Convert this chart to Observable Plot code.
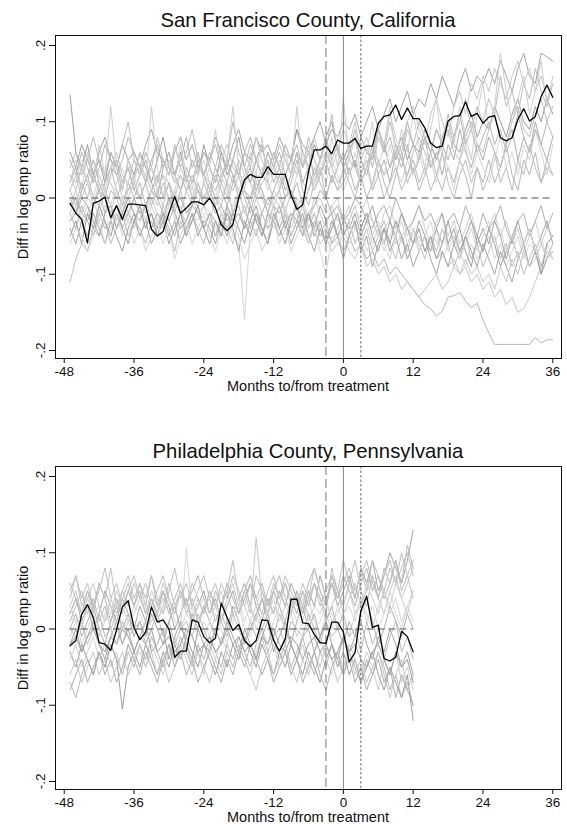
<!DOCTYPE html>
<html><head><meta charset="utf-8">
<script src="https://cdn.jsdelivr.net/npm/d3@7"></script>
<script src="https://cdn.jsdelivr.net/npm/@observablehq/plot@0.6"></script>
<style>
body{margin:0;background:#fff;font-family:"Liberation Sans",Arial,sans-serif;}
#root{position:relative;width:567px;height:824px;overflow:hidden;}
.panel{position:absolute;left:0;width:567px;height:431px;}
.ttl{position:absolute;left:55px;width:506px;text-align:center;font-size:20.3px;line-height:20px;top:10px;color:#111;}
.xt{position:absolute;left:55px;width:506px;text-align:center;font-size:14.5px;line-height:11px;top:381px;color:#111;}
.yt{position:absolute;left:23px;top:197px;font-size:14.5px;line-height:16px;white-space:nowrap;transform:translate(-50%,-50%) rotate(-90deg);color:#111;}
.panel svg{position:absolute;left:0;top:33px;}
</style></head>
<body><div id="root"></div>
<script>
// ---------- data ----------
const titles = ["San Francisco County, California", "Philadelphia County, Pennsylvania"];
const xTitle = "Months to/from treatment";
const yTitle = "Diff in log emp ratio";
const xTicks = [-48, -36, -24, -12, 0, 12, 24, 36];
const yTicks = [-0.2, -0.1, 0, 0.1, 0.2];
const preLine = [-3];   // dashed vertical
const treatLine = [0];  // solid vertical
const postLine = [3];   // dotted vertical

const sfMonths = d3.range(-47, 37);   // -47 .. 36
const phMonths = d3.range(-47, 13);   // -47 .. 12

// treated series (black)
const sfTreated = [
 -.007,-.02,-.028,-.059,-.007,-.004,.001,-.026,-.01,-.028,-.008,-.008,
 -.009,-.01,-.041,-.05,-.044,-.02,.002,-.02,-.013,-.005,-.005,-.009,
 0,-.013,-.035,-.043,-.035,0,.024,.031,.027,.027,.041,.031,
 .031,.031,.004,-.015,-.009,.035,.063,.063,.068,.058,.076,.072,
 .072,.078,.065,.068,.068,.098,.107,.109,.122,.103,.118,.104,
 .104,.092,.072,.066,.068,.101,.107,.108,.126,.107,.111,.098,
 .106,.108,.079,.075,.079,.103,.117,.101,.107,.133,.148,.132];
const phTreated = [
 -.022,-.015,.019,.032,.015,-.018,-.02,-.028,-.001,.029,.037,.002,
 -.014,-.004,.029,.009,.012,0,-.037,-.029,-.029,.012,.009,-.01,
 -.018,-.012,.034,.015,-.002,.006,-.015,-.023,-.015,.012,.011,-.015,
 -.029,-.013,.039,.039,.008,.007,-.007,-.018,-.019,.009,.009,-.004,
 -.043,-.031,.024,.043,.002,.005,-.039,-.042,-.037,-.003,-.01,-.03];

// placebo series (gray), San Francisco
const sfPlacebo1 = [.06,.04,.07,.05,.03,.06,.08,.05,.04,.07,.05,.06, .04,.07,.09,.06,.05,.03,.06,.08,.05,.07,.04,.06, .05,.08,.06,.04,.07,.09,.06,.05,.08,.06,.07,.05, .08,.06,.05,.09,.07,.06,.08,.10,.07,.09,.08,.10, .09,.11,.08,.10,.12,.09,.11,.13,.10,.12,.14,.11, .13,.12,.15,.13,.16,.14,.12,.15,.17,.14,.16,.15, .17,.15,.18,.16,.14,.17,.19,.16,.15,.19,.185,.18];
const sfPlacebo2 = [-.02,-.04,-.01,-.03,-.05,-.02,-.04,-.03,-.01,-.04,-.02,-.03, -.05,-.03,-.02,-.04,-.01,-.03,-.05,-.02,-.04,-.03,-.01,-.04, -.02,-.05,-.03,-.04,-.02,-.01,-.04,-.03,-.05,-.02,-.04,-.03, -.04,-.02,-.05,-.03,-.04,-.06,-.03,-.05,-.04,-.06,-.05,-.07, -.05,-.07,-.06,-.08,-.07,-.09,-.08,-.10,-.09,-.10,-.11,-.12, -.13,-.14,-.145,-.155,-.148,-.13,-.128,-.124,-.135,-.144,-.138,-.16, -.177,-.192,-.192,-.192,-.192,-.192,-.192,-.192,-.183,-.19,-.186,-.186];
const sfPlacebo3 = [.01,.03,.00,.02,-.01,.01,.03,.02,.00,-.02,.01,.02, .00,.02,.04,.01,-.01,.02,.00,.03,.01,-.01,.02,.00, .01,-.01,.02,.00,.03,.01,-.02,.00,.02,.01,-.01,.01, .00,-.02,.01,-.01,.00,-.03,-.01,.00,-.02,-.01,-.03,-.02, -.03,-.01,-.04,-.02,-.03,-.05,-.04,-.03,-.06,-.05,-.04,-.06, -.05,-.07,-.06,-.08,-.07,-.09,-.08,-.10,-.09,-.11,-.10,-.12, -.11,-.13,-.12,-.14,-.13,-.15,-.145,-.13,-.11,-.09,-.08,-.07];
const sfPlacebo4 = [-.03,-.01,-.04,-.02,.00,-.03,-.01,-.02,-.04,-.01,-.03,.00, -.02,-.04,-.01,-.03,-.02,.00,-.03,-.01,-.04,-.02,-.03,-.01, -.02,-.04,-.03,-.01,-.05,-.06,-.16,-.04,-.03,-.05,-.02,-.04, -.03,-.01,-.04,-.02,-.05,-.03,-.02,-.04,-.06,-.03,-.05,-.04, -.06,-.04,-.05,-.03,-.06,-.04,-.07,-.05,-.03,-.06,-.04,-.05, -.07,-.05,-.06,-.04,-.08,-.06,-.05,-.07,-.09,-.06,-.08,-.07, -.05,-.08,-.06,-.09,-.07,-.05,-.08,-.06,-.07,-.09,-.06,-.08];
const sfPlacebo5 = [.135,.06,.04,.07,.03,.05,.02,.06,.04,.01,.05,.03, .06,.04,.02,.05,.08,.04,.03,.06,.02,.05,.03,.07, .04,.02,.06,.03,.05,.08,.04,.02,.05,.07,.03,.06, .04,.07,.05,.09,.06,.04,.07,.05,.08,.10,.06,.05, .07,.04,.08,.06,.05,.09,.07,.04,.06,.08,.05,.07, .06,.09,.07,.05,.08,.10,.07,.06,.09,.11,.08,.10, .09,.12,.10,.08,.11,.13,.10,.09,.12,.10,.13,.11];
const sfPlacebo6 = [-.11,-.08,-.06,-.07,-.04,-.05,-.03,-.06,-.04,-.02,-.05,-.03, -.04,-.06,-.03,-.05,-.02,-.04,-.07,-.03,-.05,-.02,-.04,-.06, -.03,-.05,-.02,-.04,-.06,-.03,-.01,-.04,-.02,-.05,-.03,-.01, -.04,-.02,-.05,-.03,-.01,-.04,-.02,-.05,-.03,-.06,-.04,-.02, -.05,-.03,-.06,-.04,-.07,-.05,-.03,-.06,-.08,-.05,-.07,-.04, -.06,-.08,-.05,-.07,-.04,-.06,-.09,-.07,-.05,-.08,-.06,-.09, -.07,-.05,-.08,-.06,-.09,-.07,-.10,-.08,-.06,-.09,-.07,-.08];
const sfPlacebo7 = [.02,.04,.01,.03,.05,.02,.00,.03,.05,.02,.04,.01, .03,.05,.02,.00,.04,.06,.03,.01,.04,.02,.05,.03, .01,.04,.02,.05,.03,.00,.02,.04,.01,.03,.05,.02, .04,.01,.03,.06,.02,.04,.01,.03,.05,.02,.04,.06, .03,.05,.02,.04,.07,.03,.05,.02,.06,.04,.07,.03, .05,.08,.04,.06,.03,.07,.05,.09,.06,.04,.07,.05, .08,.06,.04,.07,.09,.05,.08,.06,.10,.07,.05,.08];
const sfPlacebo8 = [-.02,.00,-.03,-.01,-.04,-.02,.01,-.01,-.03,.00,-.02,-.04, -.01,-.03,.00,-.02,-.04,-.01,.01,-.02,-.03,.00,-.02,-.01, -.03,.00,-.02,-.04,-.01,.01,-.02,-.03,.00,-.02,-.04,-.01, .01,-.02,-.03,.00,-.01,-.03,.00,-.02,-.04,-.01,.00,-.03, -.01,-.04,-.02,.00,-.03,-.05,-.02,-.01,-.04,-.02,-.05,-.03, -.01,-.04,-.06,-.03,-.02,-.05,-.03,-.06,-.04,-.02,-.05,-.07, -.04,-.02,-.05,-.03,-.06,-.04,-.07,-.05,-.03,-.06,-.04,-.05];
const sfPlacebo9 = [.04,.06,.03,.05,.08,.05,.03,.06,.04,.07,.10,.05, .03,.06,.04,.08,.05,.03,.07,.04,.06,.09,.05,.03, .06,.04,.07,.05,.10,.06,.04,.07,.05,.03,.06,.04, .07,.05,.03,.06,.04,.08,.05,.03,.06,.11,.06,.04, .06,.09,.05,.07,.04,.08,.06,.10,.07,.05,.09,.07, .10,.08,.06,.09,.07,.11,.08,.10,.13,.09,.12,.10, .13,.11,.16,.12,.14,.11,.15,.13,.17,.14,.12,.15];
const sfPlacebo10 = [-.04,-.06,-.03,-.05,-.02,-.04,-.06,-.03,-.05,-.07,-.04,-.02, -.05,-.03,-.06,-.04,-.02,-.05,-.03,-.06,-.04,-.02,-.05,-.03, -.04,-.06,-.03,-.05,-.02,-.04,-.06,-.03,-.01,-.04,-.06,-.03, -.05,-.03,-.06,-.04,-.02,-.05,-.07,-.04,-.06,-.03,-.05,-.08, -.05,-.03,-.07,-.05,-.09,-.06,-.04,-.07,-.05,-.08,-.06,-.09, -.07,-.05,-.08,-.10,-.07,-.09,-.06,-.08,-.05,-.07,-.09,-.06, -.08,-.10,-.07,-.09,-.11,-.08,-.06,-.09,-.07,-.10,-.08,-.06];
const sfPlacebo11 = [.00,-.02,.01,.03,.00,-.01,.02,.04,.01,-.01,.02,.00, .02,-.01,.01,.03,.00,.02,-.02,.01,.03,.00,-.01,.02, .00,.03,.01,-.01,.02,.04,.01,.00,.03,.01,-.02,.01, .03,.00,.02,.05,.01,-.01,.02,.04,.00,.03,.01,.02, .04,.01,.03,.00,.02,.05,.02,.00,.03,.06,.02,.04, .01,.03,.06,.03,.01,.04,.02,.05,.03,.00,.04,.02, .05,.02,.04,.07,.03,.01,.05,.03,.06,.02,.04,.03];
const sfPlacebo12 = [.03,.01,.04,.02,.05,.03,.01,.04,.06,.03,.02,.05, .03,.06,.04,.02,.05,.03,.07,.04,.02,.05,.03,.06, .04,.02,.05,.07,.04,.03,.06,.04,.08,.05,.03,.06, .04,.07,.05,.03,.06,.04,.08,.05,.07,.04,.06,.09, .07,.10,.06,.08,.05,.09,.07,.11,.08,.06,.10,.12, .09,.07,.11,.13,.10,.08,.12,.14,.11,.15,.13,.16, .14,.17,.15,.13,.16,.18,.15,.17,.14,.16,.13,.15];
const sfPlacebo13 = [.01,.03,.05,.02,.00,.03,.01,-.01,.02,.04,.01,.03, .00,.02,.04,.01,.03,-.01,.01,.04,.02,.00,.03,.05, .02,.00,.03,.01,-.02,.01,.03,.05,.02,.04,.01,.03, .05,.02,.00,.03,.06,.03,.01,.04,.02,.05,.03,.01, .03,.06,.02,.04,.01,.05,.03,.07,.04,.02,.05,.03, .06,.03,.05,.02,.06,.04,.01,.05,.07,.03,.06,.04, .02,.05,.08,.04,.06,.03,.07,.05,.09,.06,.03,.07];
const sfPlacebo14 = [-.05,-.03,-.06,-.02,-.04,-.01,-.03,-.05,-.02,-.04,-.06,-.03, -.01,-.04,-.02,-.05,-.03,-.06,-.04,-.02,-.05,-.03,-.01,-.04, -.06,-.03,-.05,-.02,-.04,-.07,-.03,-.05,-.02,-.04,-.06,-.02, -.04,-.06,-.03,-.01,-.04,-.02,-.05,-.03,-.06,-.04,-.02,-.05, -.03,-.06,-.04,-.02,-.05,-.07,-.04,-.06,-.03,-.05,-.08,-.06, -.04,-.07,-.05,-.08,-.06,-.03,-.06,-.04,-.07,-.09,-.05,-.07, -.04,-.06,-.09,-.07,-.05,-.08,-.06,-.04,-.07,-.10,-.06,-.05];
const sfPlacebo15 = [.03,.02,.04,.05,.03,.01,.02,.04,.03,.00,.01,.03, .04,.03,.01,.02,.05,.04,.02,.03,.01,.02,.04,.03, .02,.01,.03,.04,.02,.05,.03,.02,.00,.02,.03,.04, .02,.03,.05,.04,.02,.01,.03,.05,.06,.04,.02,.03, .05,.04,.02,.04,.06,.05,.03,.04,.07,.05,.03,.06, .08,.06,.04,.05,.07,.09,.06,.05,.08,.10,.07,.06, .09,.11,.08,.07,.10,.12,.09,.08,.11,.13,.10,.12];
const sfPlacebo16 = [-.01,.00,-.02,-.03,-.01,.01,.00,-.02,-.01,-.03,-.02,.00, -.02,-.01,.01,.00,-.02,-.03,-.01,.00,-.02,-.01,.01,-.01, .00,-.02,-.01,-.03,-.02,.00,.01,-.01,-.03,-.02,.00,-.01, -.02,.00,.01,-.01,-.03,-.02,-.01,.01,.00,-.02,-.01,-.03, -.02,.00,-.01,-.03,-.04,-.02,-.01,-.03,.00,-.02,-.04,-.03, -.01,-.03,-.02,-.04,-.06,-.03,-.02,-.04,-.01,-.03,-.05,-.02, -.04,-.03,-.01,-.04,-.06,-.03,-.02,-.05,-.03,-.01,-.04,-.02];
const sfPlacebo17 = [.02,.05,.01,.06,.02,.07,.03,.12,.04,.01,.05,.02, .06,.02,.12,.04,.00,.05,.02,.07,.03,.01,.06,.02, .04,.09,.03,.05,.12,.04,.01,.06,.03,.08,.02,.05, .01,.06,.03,.12,.04,.07,.02,.05,.03,.08,.04,.13, .05,.08,.03,.06,.10,.04,.07,.12,.05,.09,.06,.11, .07,.04,.09,.13,.06,.10,.07,.12,.08,.05,.11,.15, .09,.12,.19,.14,.10,.13,.16,.11,.14,.18,.12,.16];
const sfPlacebo18 = [.01,-.01,.02,.00,.03,.01,-.02,.01,.00,.02,.04,.01, .00,.02,-.01,.01,.03,.02,.00,-.02,.01,.03,.01,.00, .02,.00,-.01,.02,.01,.03,.00,-.02,.01,.03,.02,.00, .01,.03,.00,.02,-.01,.01,.04,.02,.00,.03,.01,.04, .02,.00,.03,.05,.01,.03,.00,.02,.04,.01,.03,.05, .02,.04,.01,.03,.06,.02,.00,.03,.05,.02,.04,.01, .03,.06,.02,.04,.01,.05,.03,.07,.04,.02,.05,.03];
const sfPlacebo19 = [-.03,-.02,.00,-.01,-.03,-.05,-.02,-.01,-.04,-.02,.00,-.02, -.03,-.01,-.04,-.02,-.03,.00,-.02,-.04,-.03,-.01,-.02,-.04, -.02,-.03,-.05,-.01,-.03,-.02,-.04,-.01,-.03,-.05,-.02,-.03, -.01,-.04,-.02,-.03,-.05,-.02,-.04,-.01,-.03,-.02,-.05,-.03, -.04,-.02,-.05,-.03,-.01,-.04,-.06,-.03,-.05,-.02,-.04,-.06, -.03,-.05,-.07,-.04,-.02,-.06,-.04,-.07,-.05,-.03,-.06,-.04, -.06,-.03,-.05,-.08,-.05,-.03,-.06,-.04,-.07,-.05,-.03,-.06];
const sfPlacebo20 = [.05,.03,.06,.04,.02,.04,.07,.05,.03,.05,.08,.06, .04,.02,.05,.07,.04,.06,.03,.05,.08,.04,.06,.03, .05,.07,.04,.02,.05,.03,.06,.08,.05,.03,.06,.04, .06,.03,.05,.07,.04,.06,.03,.05,.08,.05,.07,.04, .06,.08,.05,.03,.06,.09,.06,.08,.05,.07,.10,.07, .05,.08,.06,.09,.07,.05,.08,.11,.07,.09,.06,.08, .10,.07,.09,.06,.08,.11,.08,.06,.09,.07,.10,.08];
const sfPlacebo21 = [-.01,.01,-.02,.00,-.01,.02,.00,-.02,.01,-.01,.00,.02, .00,-.02,.01,-.01,.02,.00,-.01,.01,-.02,.00,.02,-.01, .01,-.01,.00,.02,-.02,.00,.01,-.01,.02,.00,-.02,.00, -.01,-.03,-.02,-.04,-.03,-.05,-.04,-.06,-.05,-.07,-.06,-.05, -.07,-.08,-.06,-.09,-.08,-.10,-.09,-.11,-.10,-.12,-.11,-.12, -.13,-.12,-.11,-.10,-.12,-.11,-.09,-.10,-.08,-.10,-.09,-.11, -.10,-.12,-.09,-.11,-.08,-.10,-.07,-.09,-.08,-.06,-.08,-.07];
const sfPlacebo22 = [-.06,-.04,-.05,-.07,-.05,-.03,-.06,-.04,-.02,-.05,-.03,-.06, -.04,-.07,-.05,-.03,-.06,-.04,-.08,-.05,-.03,-.06,-.04,-.02, -.05,-.07,-.04,-.06,-.03,-.05,-.08,-.06,-.04,-.07,-.05,-.03, -.06,-.04,-.07,-.05,-.03,-.06,-.04,-.07,-.10,-.05,-.06,-.04, -.03,-.06,-.04,-.07,-.05,-.03,-.06,-.08,-.05,-.03,-.06,-.04, -.07,-.05,-.03,-.06,-.04,-.07,-.05,-.08,-.06,-.04,-.07,-.05, -.03,-.06,-.04,-.07,-.05,-.08,-.06,-.04,-.07,-.05,-.08,-.06];

// placebo series (gray), Philadelphia
const phPlacebo1 = [.02,.04,.01,.03,.00,.02,.05,.03,.01,.04,.02,.00, .03,.01,.04,.02,.05,.03,.00,.02,.04,.01,.03,.05, .02,.04,.01,.03,.05,.02,.04,.06,.03,.01,.04,.02, .05,.03,.06,.04,.02,.05,.03,.07,.04,.06,.03,.05, .07,.04,.08,.06,.09,.05,.07,.10,.08,.06,.09,.13];
const phPlacebo2 = [-.07,-.09,-.06,-.04,-.06,-.03,-.05,-.02,-.04,-.06,-.03,-.05, -.02,-.04,-.01,-.03,-.05,-.02,-.04,-.01,-.03,-.05,-.02,-.04, -.01,-.03,-.05,-.02,-.04,-.01,-.03,-.05,-.02,.00,-.03,-.01, -.04,-.02,-.05,-.03,-.01,-.04,-.06,-.03,-.05,-.02,-.04,-.06, -.03,-.05,-.07,-.04,-.06,-.03,-.05,-.08,-.06,-.09,-.07,-.10];
const phPlacebo3 = [.03,.05,.02,.04,.06,.03,.01,.04,.02,.05,.03,.06, .04,.02,.05,.03,.06,.04,.02,.05,.03,.01,.04,.02, .05,.03,.01,.04,.06,.03,.05,.02,.12,.04,.02,.05, .03,.06,.04,.02,.05,.03,.06,.04,.01,.03,.05,.02, .04,.06,.03,.05,.07,.04,.02,.05,.07,.04,.06,.08];
const phPlacebo4 = [-.01,.01,-.02,.00,.02,-.01,.01,.03,.00,-.02,.01,-.01, .01,-.01,.02,.00,-.02,.01,.03,.00,.105,.02,-.01,.01, -.01,.02,.00,-.02,.01,.03,.00,-.01,.02,.00,-.02,.01, .03,.00,.02,-.01,.01,.04,.01,-.01,.02,.00,.03,.01, -.01,.02,.04,.01,.03,.00,.02,.05,.02,.00,.03,.01];
const phPlacebo5 = [-.03,-.05,-.02,-.04,-.06,-.03,-.05,-.02,-.04,-.105,-.05,-.03, -.05,-.02,-.04,-.06,-.03,-.05,-.02,-.04,-.01,-.03,-.05,-.02, -.04,-.06,-.03,-.05,-.02,-.04,-.01,-.03,-.05,-.02,-.04,-.06, -.03,-.05,-.02,-.04,-.06,-.03,-.05,-.07,-.04,-.02,-.05,-.03, -.06,-.04,-.07,-.05,-.03,-.06,-.08,-.05,-.07,-.09,-.06,-.12];
const phPlacebo6 = [.05,.07,.04,.06,.03,.05,.08,.04,.06,.03,.05,.07, .04,.06,.03,.05,.07,.04,.02,.05,.03,.06,.04,.02, .05,.03,.06,.04,.07,.05,.03,.06,.04,.02,.05,.07, .04,.06,.03,.05,.02,.04,.06,.03,.05,.07,.04,.06, .08,.05,.07,.09,.06,.04,.07,.09,.06,.08,.10,.07];
const phPlacebo7 = [.00,.02,-.01,.01,.03,.00,-.02,.01,.03,.00,.02,-.01, .01,-.01,.02,.00,-.02,.01,.03,.00,-.01,.02,.00,.03, .01,-.01,.02,.00,.03,.01,-.02,.00,.02,.04,.01,-.01, .02,.00,-.02,.01,.03,.00,.02,-.01,.01,.03,.00,-.02, .01,-.01,.02,.04,.01,-.02,.00,.03,.01,-.01,.02,.00];
const phPlacebo8 = [-.04,-.02,-.05,-.03,-.01,-.04,-.02,-.05,-.03,-.06,-.02,-.04, -.03,-.05,-.02,-.04,-.06,-.03,-.01,-.04,-.02,-.05,-.03,-.06, -.02,-.04,-.01,-.03,-.05,-.02,-.04,-.06,-.03,-.01,-.04,-.02, -.05,-.03,-.06,-.04,-.02,-.05,-.03,-.01,-.04,-.06,-.03,-.05, -.02,-.04,-.06,-.03,-.05,-.08,-.04,-.06,-.03,-.07,-.05,-.08];
const phPlacebo9 = [.01,.03,.05,.02,.04,.01,.03,.00,.02,.04,.06,.03, .05,.02,.04,.01,.03,.06,.03,.05,.02,.04,.01,.03, .04,.01,.03,.05,.02,.04,.06,.03,.01,.04,.02,.05, .03,.01,.04,.02,.05,.03,.06,.04,.02,.08,.05,.03, .06,.09,.05,.03,.07,.04,.08,.06,.09,.05,.07,.04];
const phPlacebo10 = [-.02,.00,-.03,-.01,.01,-.02,-.04,-.01,.01,-.02,.00,-.03, -.01,.01,-.03,-.02,.00,-.04,-.01,.01,-.02,-.04,.00,-.02, -.03,.00,-.02,.01,-.01,-.03,.00,-.02,-.04,-.01,.01,-.03, -.01,.01,-.02,-.04,-.01,.00,-.03,-.01,.01,-.02,-.04,-.01, -.03,-.01,.01,-.02,-.04,-.01,-.03,.00,-.02,-.05,-.03,-.06];
const phPlacebo11 = [.06,.04,.02,.05,.03,.06,.04,.01,.04,.02,.05,.03, .06,.04,.07,.03,.05,.02,.04,.06,.03,.05,.07,.04, .02,.05,.03,.06,.04,.02,.05,.07,.04,.06,.03,.05, .07,.04,.02,.05,.03,.06,.08,.05,.03,.06,.04,.07, .05,.03,.06,.08,.05,.07,.04,.06,.09,.06,.11,.08];
const phPlacebo12 = [-.06,-.04,-.07,-.05,-.03,-.06,-.04,-.07,-.05,-.03,-.06,-.04, -.02,-.05,-.03,-.06,-.04,-.07,-.05,-.02,-.04,-.06,-.03,-.05, -.07,-.04,-.06,-.03,-.05,-.02,-.04,-.06,-.08,-.05,-.03,-.06, -.04,-.02,-.05,-.07,-.04,-.06,-.03,-.05,-.02,-.04,-.07,-.05, -.03,-.06,-.04,-.07,-.05,-.03,-.06,-.09,-.06,-.04,-.08,-.06];
const phPlacebo13 = [.01,.02,.00,.03,.01,-.01,.02,.04,.02,.00,.01,.03, .02,.00,.01,.03,.02,.04,.01,.00,.02,.03,.01,-.01, .01,.03,.02,.00,.02,.04,.01,.03,.00,.02,.01,.03, .02,.00,.03,.01,.04,.02,.00,.01,.03,.02,.00,.02, .03,.01,.04,.02,.00,.03,.05,.02,.04,.01,.03,.05];
const phPlacebo14 = [-.02,-.01,-.03,-.01,.00,-.02,-.03,-.01,-.02,.00,-.01,-.03, -.01,-.02,.00,-.03,-.02,-.01,-.03,-.02,.00,-.01,-.03,-.02, -.01,-.03,-.02,.00,-.02,-.01,-.03,-.02,-.04,-.01,-.02,.00, -.02,-.03,-.01,-.02,-.04,-.02,-.01,-.03,-.02,-.04,-.03,-.01, -.03,-.02,-.04,-.05,-.03,-.02,-.04,-.06,-.03,-.05,-.04,-.07];
const phPlacebo15 = [.04,.07,.03,.05,.02,.06,.04,.08,.03,.05,.07,.04, .06,.03,.07,.04,.02,.05,.08,.04,.06,.03,.05,.07, .04,.06,.03,.05,.09,.04,.06,.03,.07,.05,.03,.06, .04,.07,.05,.03,.06,.04,.08,.05,.03,.07,.05,.09, .06,.04,.08,.05,.09,.07,.05,.08,.06,.10,.07,.09];
const phPlacebo16 = [-.08,-.06,-.04,-.07,-.05,-.03,-.06,-.04,-.07,-.05,-.02,-.04, -.06,-.03,-.05,-.07,-.04,-.02,-.05,-.03,-.06,-.04,-.07,-.05, -.03,-.05,-.07,-.04,-.06,-.03,-.05,-.02,-.04,-.06,-.04,-.07, -.05,-.03,-.06,-.04,-.07,-.05,-.03,-.06,-.08,-.05,-.03,-.06, -.04,-.07,-.05,-.08,-.06,-.04,-.07,-.05,-.09,-.06,-.08,-.10];
const phPlacebo17 = [.03,.01,.02,.04,.02,.03,.01,.02,.05,.03,.01,.02, .04,.03,.01,.02,.04,.02,.03,.05,.02,.01,.03,.04, .02,.03,.05,.01,.02,.04,.03,.01,.03,.05,.02,.04, .01,.03,.02,.04,.05,.01,.03,.02,.04,.01,.02,.04, .05,.02,.03,.06,.04,.02,.05,.03,.06,.04,.02,.05];
const phPlacebo18 = [.00,-.01,.01,-.02,.00,.02,-.01,.00,-.02,.01,-.01,.00, .01,-.02,.00,.02,-.01,.01,-.02,.00,.01,-.01,.02,.00, -.02,.00,.01,-.01,.02,.00,-.02,.01,-.01,.00,.02,-.01, .00,-.02,.01,.00,-.01,.02,.00,-.02,.01,-.01,.00,.02, -.01,.00,-.03,.01,-.02,.00,-.04,-.01,.01,-.03,-.01,-.04];

const sfPlacebos = [sfPlacebo1,sfPlacebo2,sfPlacebo3,sfPlacebo4,sfPlacebo5,sfPlacebo6,sfPlacebo7,sfPlacebo8,sfPlacebo9,sfPlacebo10,sfPlacebo11,sfPlacebo12,sfPlacebo13,sfPlacebo14,sfPlacebo15,sfPlacebo16,sfPlacebo17,sfPlacebo18,sfPlacebo19,sfPlacebo20,sfPlacebo21,sfPlacebo22];
const phPlacebos = [phPlacebo1,phPlacebo2,phPlacebo3,phPlacebo4,phPlacebo5,phPlacebo6,phPlacebo7,phPlacebo8,phPlacebo9,phPlacebo10,phPlacebo11,phPlacebo12,phPlacebo13,phPlacebo14,phPlacebo15,phPlacebo16,phPlacebo17,phPlacebo18];

// ---------- style ----------
const shades = ["#a6a6a6","#b8b8b8","#c8c8c8","#d6d6d6","#9e9e9e","#c0c0c0","#b0b0b0","#cfcfcf","#bdbdbd"];
const fmtY = d => d === 0 ? "0" : d3.format(".1f")(d).replace("\u2212", "-").replace("0.", ".");

function drawPanel(idx, months, treated, placebos, top) {
  const root = document.getElementById("root");
  const div = document.createElement("div");
  div.className = "panel";
  div.style.top = top + "px";
  root.appendChild(div);

  const t = document.createElement("div"); t.className = "ttl"; t.textContent = titles[idx]; div.appendChild(t);

  const gray = [];
  placebos.forEach((s, i) => s.forEach((v, j) => gray.push({id: i, m: months[j], v, c: shades[i % shades.length]})));
  const black = treated.map((v, j) => ({m: months[j], v}));

  const svg = Plot.plot({
    width: 567, height: 367,
    marginLeft: 55, marginRight: 6, marginTop: 2, marginBottom: 42,
    style: {fontFamily: "'Liberation Sans', Arial, sans-serif", fontSize: "13.5px", background: "white", color: "#111"},
    x: {domain: [-49.5, 37.5]},
    y: {domain: [-0.2105, 0.2131]},
    marks: [
      Plot.lineY(gray, {x: "m", y: "v", z: "id", stroke: "c", strokeWidth: 1}),
      Plot.ruleY([0], {x1: () => months[0], x2: () => months[months.length - 1], stroke: "#555", strokeWidth: 1, strokeDasharray: "7,4"}),
      Plot.ruleX(preLine, {stroke: "#777", strokeWidth: 1, strokeDasharray: "9,4"}),
      Plot.ruleX(treatLine, {stroke: "#888", strokeWidth: 1}),
      Plot.ruleX(postLine, {stroke: "#666", strokeWidth: 1, strokeDasharray: "2.5,2"}),
      Plot.lineY(black, {x: "m", y: "v", stroke: "#000", strokeWidth: 1.3}),
      Plot.frame({stroke: "#111", strokeWidth: 1}),
      Plot.axisX({ticks: xTicks, tickSize: 5, tickPadding: 3, label: null, tickFormat: d => String(d)}),
      Plot.axisY({ticks: yTicks, tickSize: 6, label: null, tickFormat: () => ""}),
      Plot.text(yTicks, {y: d => d, frameAnchor: "left", dx: -15, rotate: -90, text: fmtY, textAnchor: "middle", fill: "#111"})
    ]
  });
  div.appendChild(svg);

  const xt = document.createElement("div"); xt.className = "xt"; xt.textContent = xTitle; div.appendChild(xt);
  const yt = document.createElement("div"); yt.className = "yt"; yt.textContent = yTitle; div.appendChild(yt);
}

drawPanel(0, sfMonths, sfTreated, sfPlacebos, 0);
drawPanel(1, phMonths, phTreated, phPlacebos, 431);
</script>
</body></html>
